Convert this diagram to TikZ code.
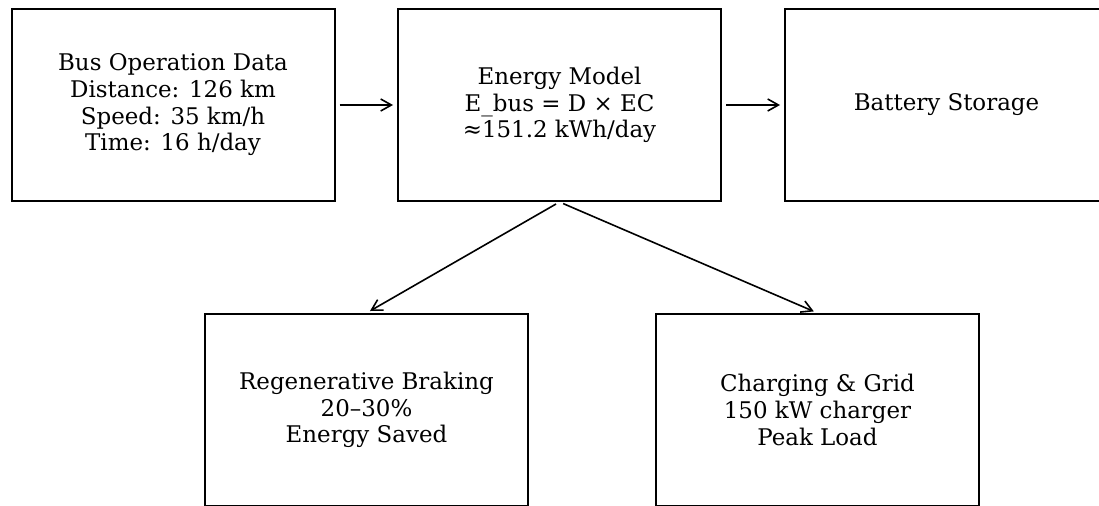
\documentclass[tikz,border=0pt]{standalone}
\usepackage{fontspec}
\setmainfont{DejaVu Serif}
\usepackage{tikz}
\usetikzlibrary{arrows.meta, positioning}

\begin{document}
\begin{tikzpicture}[x=0.75pt,y=0.75pt,yscale=-1,xscale=1,
		blk/.style={draw, line width=1.5pt, minimum width=242.25pt, minimum height=144pt, inner sep=0pt, align=center, font=\fontsize{17.2}{20}\selectfont},
		arr/.style={-{Straight Barb[length=8pt,width=9pt]}, line width=1.2pt, shorten <=3pt, shorten >=3pt}]
		%set diagram left start at 0, and has height of 506
		\useasboundingbox (0,0) rectangle (1099,506);

		%Boxes, top row
		\node [blk] (busdata) at (173,105) {Bus Operation Data\\Distance: 126 km\\Speed: 35 km/h\\Time: 16 h/day};
		\node [blk] (energy) at (559.5,105) {Energy Model\\E\_bus = D × EC\\≈151.2 kWh/day};
		\node [blk] (battery) at (946.5,105) {Battery Storage};
		%Boxes, bottom row
		\node [blk] (regen) at (366.5,410) {Regenerative Braking\\20–30\%\\Energy Saved};
		\node [blk] (grid) at (817.5,410) {Charging \& Grid\\150 kW charger\\Peak Load};

		%Arrows
		\draw [arr] (busdata.east) -- (energy.west);
		\draw [arr] (energy.east) -- (battery.west);
		\draw [arr] (energy.south) -- (regen.north);
		\draw [arr] (energy.south) -- (grid.north);

	\end{tikzpicture}
\end{document}
